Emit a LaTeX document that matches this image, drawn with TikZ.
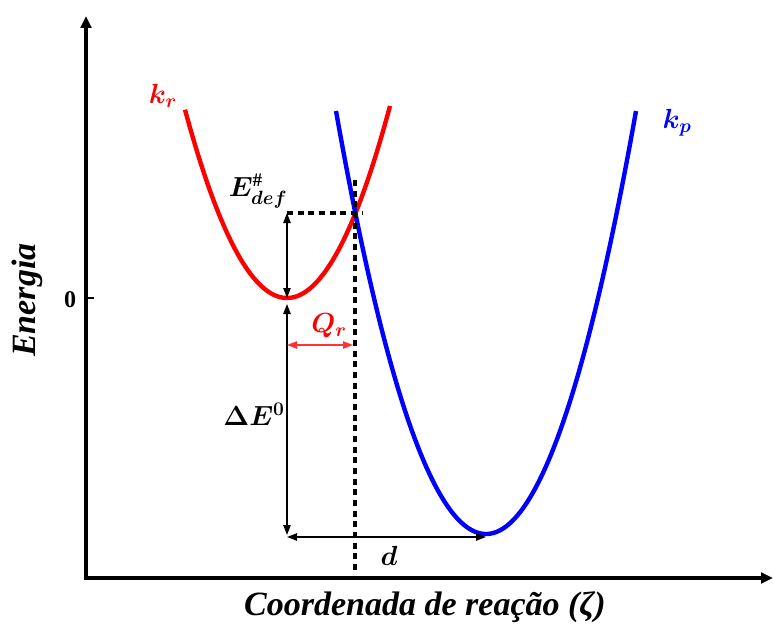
\documentclass[tikz,border=0pt]{standalone}
\usepackage{amsmath}
\usepackage{fontspec}
\setmainfont{Liberation Serif}
\usetikzlibrary{arrows.meta}
\begin{document}
\begin{tikzpicture}[x=0.75pt,y=-0.75pt,
  axis/.style={line width=2.6pt,-{Triangle[length=9pt,width=8pt]}},
  curve/.style={line width=3.3pt},
  dim/.style={line width=1pt,{Triangle[length=7.5pt,width=5.5pt]}-{Triangle[length=7.5pt,width=5.5pt]}},
  dsh/.style={line width=2.5pt,dash pattern=on 4.5pt off 3.5pt},
  lbl/.style={font=\bfseries\itshape\fontsize{20.5}{23}\selectfont,inner sep=0pt},
  big/.style={font=\bfseries\itshape\fontsize{22}{25}\selectfont,inner sep=0pt},
  title/.style={font=\bfseries\itshape\fontsize{25.5}{28}\selectfont,inner sep=0pt}]
\useasboundingbox (0,0) rectangle (773,627);
\coordinate (O) at (86,578);
\coordinate (ytop) at (86,16);
\coordinate (xend) at (773,578);
\draw[axis] (O) -- (ytop);
\draw[axis] ([xshift=-1.3pt]O) -- (xend);
\coordinate (t0) at (86,298);
\coordinate (t1) at (94,298);
\draw[line width=1.6pt] (t0) -- (t1);
\node[font=\bfseries\fontsize{18}{21}\selectfont] (zero) at (70,300) {0};
\node[title,rotate=90] (en) at (27,300) {Energia};
\node[title] (xl) at (425,607) {Coordenada de reação (ζ)};
% curves
\draw[curve,red,domain=185:390,samples=80] plot (\x,{298-1.81*((\x-287)/10)^2});
\draw[curve,blue,domain=336:636,samples=100] plot (\x,{534-1.88*((\x-486)/10)^2});
% labels
\node[big,red] (kr) at (163,96) {$\boldsymbol{k_r}$};
\node[big,blue] (kp) at (677,123) {$\boldsymbol{k_p}$};
% dashed
\coordinate (dh1) at (287,213);
\coordinate (dh2) at (362,213);
\coordinate (dv1) at (355,180);
\coordinate (dv2) at (355,570);
\draw[dsh] (dh1) -- (dh2);
\draw[dsh] (dv1) -- (dv2);
% arrows
\coordinate (a1) at (287,213);
\coordinate (a2) at (287,298);
\coordinate (a3) at (287,304);
\coordinate (a4) at (287,535);
\coordinate (b1) at (287,345);
\coordinate (b2) at (353,345);
\coordinate (c1) at (287,537);
\coordinate (c2) at (486,537);
\draw[dim] (a1) -- (a2);
\draw[dim] (a3) -- (a4);
\draw[dim,red!90!black,draw=red!80] (b1) -- (b2);
\draw[dim] (c1) -- (c2);
\node[lbl] (edef) at (258,191) {$\boldsymbol{E^{\#}_{def}}$};
\node[big,red] (qr) at (329,326) {$\boldsymbol{Q_r}$};
\node[lbl] (de) at (254,414) {$\boldsymbol{\Delta E^{0}}$};
\node[lbl] (dd) at (389,556) {$\boldsymbol{d}$};
\end{tikzpicture}
\end{document}
